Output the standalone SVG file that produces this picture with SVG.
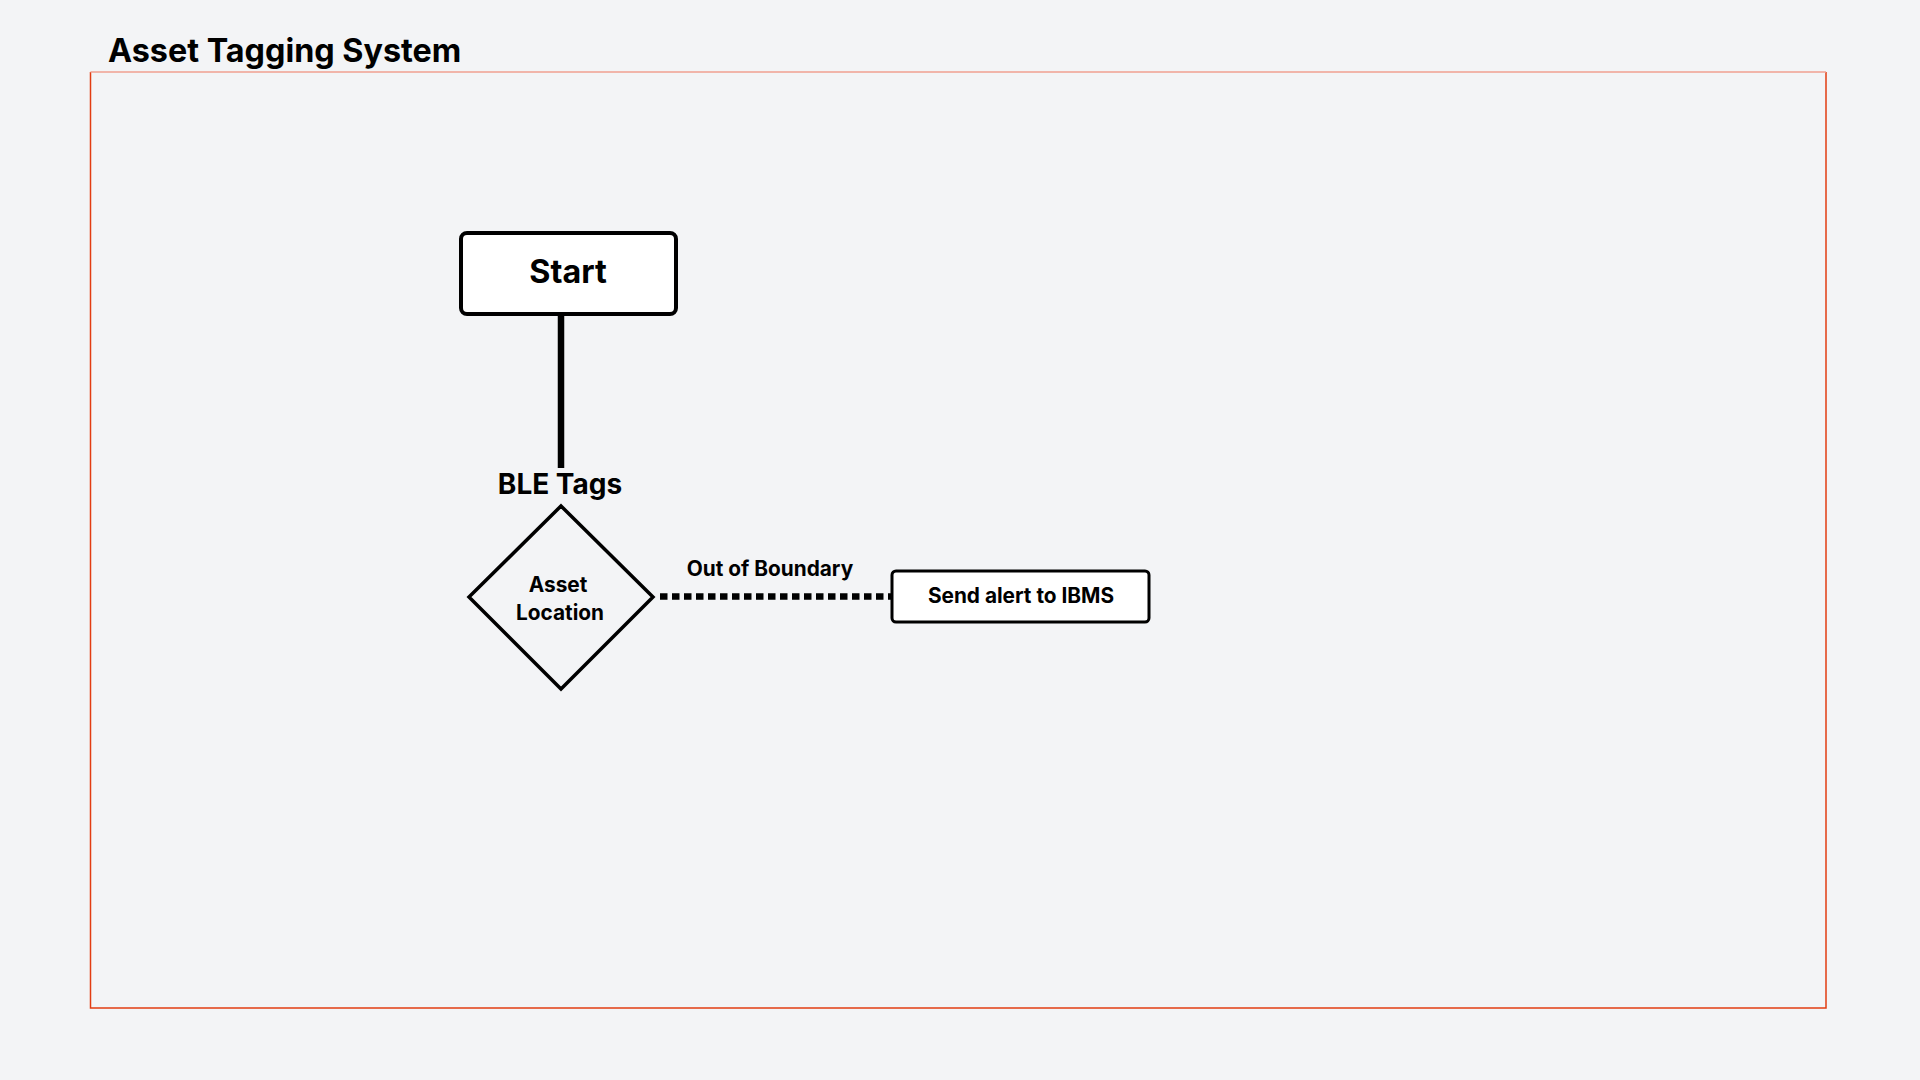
<svg xmlns="http://www.w3.org/2000/svg" width="1920" height="1080" viewBox="0 0 1920 1080">
<style>
text{font-family:Inter,"Liberation Sans",sans-serif;font-weight:700;fill:#000}
.node{fill:#fff;stroke:#000;stroke-width:4}
.lbl{font-size:20.8px;text-anchor:middle}
</style>
<rect width="1920" height="1080" fill="#f3f4f6"/>
<g id="boundary">
<path d="M90.5 72 V1008 H1826 V72" fill="none" stroke="#e23c12" stroke-width="1.5"/>
<line x1="90.5" y1="72" x2="1826" y2="72" stroke="#f0a090" stroke-width="1.5"/>
<text x="108" y="62" font-size="32.3">Asset Tagging System</text>
</g>
<g id="connectors">
<line x1="561" y1="315" x2="561" y2="468" stroke="#000" stroke-width="6.5"/>
<line x1="660" y1="596.5" x2="891" y2="596.5" stroke="#000" stroke-width="6.5" stroke-dasharray="7.5 4.5"/>
<text class="lbl" x="770" y="576">Out of Boundary</text>
</g>
<g id="start">
<rect class="node" x="461" y="233" width="215" height="81" rx="6"/>
<text x="568" y="283" font-size="32.3" text-anchor="middle">Start</text>
</g>
<g id="ble-tags">
<text x="560" y="494" font-size="28" text-anchor="middle">BLE Tags</text>
</g>
<g id="asset-location">
<polygon points="561,506 653,597 561,689 469,597" fill="none" stroke="#000" stroke-width="3.5"/>
<text class="lbl" x="558" y="592">Asset</text>
<text class="lbl" x="560" y="620">Location</text>
</g>
<g id="send-alert">
<rect x="892" y="571" width="257" height="51" rx="4" fill="#fff" stroke="#000" stroke-width="3"/>
<text class="lbl" x="1021" y="603">Send alert to IBMS</text>
</g>
</svg>
